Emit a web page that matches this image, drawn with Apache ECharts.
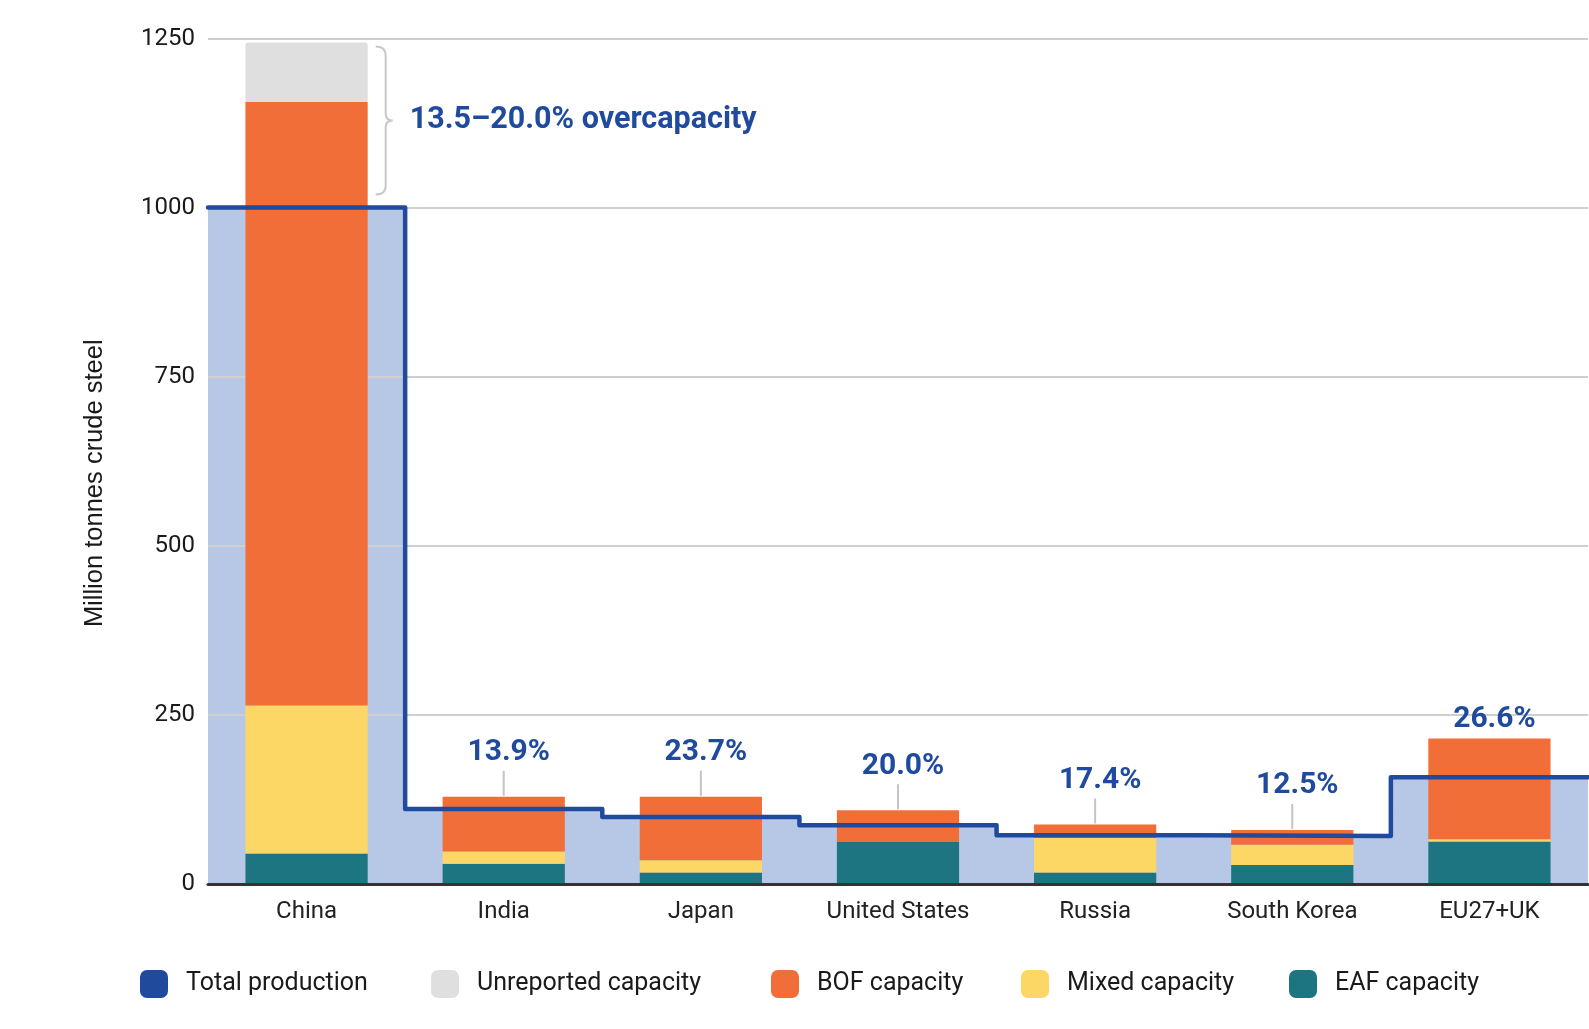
<!DOCTYPE html>
<html><head><meta charset="utf-8">
<script src="https://cdn.jsdelivr.net/npm/echarts@6/dist/echarts.min.js"></script>
<style>html,body{margin:0;padding:0;background:#fff}#c{width:1589px;height:1029px}</style>
</head><body><div id="c"></div>
<script>
const categories = ['China', 'India', 'Japan', 'United States', 'Russia', 'South Korea', 'EU27+UK'];
const eafCapacity = [45, 30, 17, 63, 17, 28, 63];
const mixedCapacity = [219, 18, 18, 0, 51, 30, 3];
const bofCapacity = [892, 81, 94, 46, 20, 22, 149];
const unreportedCapacity = [88, 0, 0, 0, 0, 0, 0];
const totalProduction = [1000, 111, 99, 87, 72, 71, 158];
const overcapacityLabels = ['', '13.9%', '23.7%', '20.0%', '17.4%', '12.5%', '26.6%'];
const chinaOvercapacityLabel = '13.5\u201320.0% overcapacity';
const yTicks = { min: 0, max: 1250, interval: 250 };

const capacityTotal = categories.map((_, i) => eafCapacity[i] + mixedCapacity[i] + bofCapacity[i] + unreportedCapacity[i]);
const stepData = totalProduction.map((v, i) => [i, v]).concat([[categories.length, totalProduction[totalProduction.length - 1]]]);

const BLUE = '#1f4a9e';
const FONT = 'Roboto, sans-serif';
const BARW = 0.62;

const chart = echarts.init(document.getElementById('c'));

const legendBase = {
  top: 970, padding: 0, itemWidth: 28, itemHeight: 28, icon: 'roundRect', selectedMode: false,
  textStyle: { fontSize: 25, color: '#1a1a1a', fontFamily: FONT, padding: [0, 0, 0, 13] }
};

const option = {
  animation: false,
  backgroundColor: '#fff',
  grid: { left: 208, right: 1, top: 38.5, bottom: 145 },
  legend: [
    { data: ['Total production'], left: 140 },
    { data: ['Unreported capacity'], left: 431 },
    { data: ['BOF capacity'], left: 771 },
    { data: ['Mixed capacity'], left: 1021 },
    { data: ['EAF capacity'], left: 1289 }
  ].map(l => Object.assign({}, legendBase, l)),
  xAxis: [
    {
      type: 'category', data: categories, z: 5,
      axisTick: { show: false },
      axisLine: { lineStyle: { color: '#333', width: 3 } },
      axisLabel: { color: '#222', fontSize: 24, fontFamily: FONT, margin: 16 }
    },
    { type: 'value', min: 0, max: categories.length, show: false }
  ],
  yAxis: {
    type: 'value', min: yTicks.min, max: yTicks.max, interval: yTicks.interval, z: 1,
    name: 'Million tonnes crude steel', nameLocation: 'middle', nameGap: 100,
    nameTextStyle: { fontSize: 25.5, color: '#1a1a1a', fontFamily: 'Liberation Sans, Arial, sans-serif', padding: [0, 44, 0, 0] },
    axisLine: { show: false }, axisTick: { show: false },
    axisLabel: { color: '#1a1a1a', fontSize: 24, fontFamily: FONT, margin: 13, formatter: v => String(v) },
    splitLine: { lineStyle: { color: '#cfcfcf', width: 2 } }
  },
  series: [
    {
      name: 'production-area', type: 'line', xAxisIndex: 1, data: stepData, step: 'end', symbol: 'none',
      lineStyle: { width: 0 }, areaStyle: { color: '#b7c8e6', opacity: 1 }, z: 0, silent: true
    },
    { name: 'EAF capacity', type: 'bar', stack: 'cap', data: eafCapacity, barWidth: (BARW * 100) + '%', itemStyle: { color: '#1e7582' }, z: 2 },
    { name: 'Mixed capacity', type: 'bar', stack: 'cap', data: mixedCapacity, barWidth: (BARW * 100) + '%', itemStyle: { color: '#fdd766' }, z: 2 },
    { name: 'BOF capacity', type: 'bar', stack: 'cap', data: bofCapacity, barWidth: (BARW * 100) + '%', itemStyle: { color: '#f26e38' }, z: 2 },
    { name: 'Unreported capacity', type: 'bar', stack: 'cap', data: unreportedCapacity, barWidth: (BARW * 100) + '%', itemStyle: { color: '#dfdfdf', borderRadius: [3, 3, 0, 0] }, z: 2 },
    {
      name: 'Total production', type: 'line', xAxisIndex: 1, data: stepData, step: 'end', symbol: 'none',
      color: BLUE, lineStyle: { width: 4.5, color: BLUE, cap: 'round', join: 'round' }, itemStyle: { color: BLUE }, z: 3
    },
    {
      name: 'pct', type: 'custom', silent: true, z: 4,
      data: categories.map((c, i) => [i, capacityTotal[i]]),
      renderItem: (params, api) => {
        const i = params.dataIndex;
        const text = overcapacityLabels[i];
        if (!text) return { type: 'group', children: [] };
        const p = api.coord([i, api.value(1)]);
        const near = i === categories.length - 1;
        const children = [];
        if (!near) children.push({ type: 'line', shape: { x1: p[0], y1: p[1] - 1, x2: p[0], y2: p[1] - 26 }, style: { stroke: '#c4c4c4', lineWidth: 2 } });
        children.push({ type: 'text', x: p[0] + 5, y: p[1] - (near ? 19 : 44), style: { text: text, fill: BLUE, font: 'bold 30px Roboto', align: 'center', verticalAlign: 'middle' } });
        return { type: 'group', children: children };
      }
    },
    {
      name: 'brace', type: 'custom', silent: true, z: 4,
      data: [[0, totalProduction[0], capacityTotal[0]]],
      renderItem: (params, api) => {
        const xc = api.coord([0, 0])[0];
        const bw = api.size([1, 0])[0] * BARW;
        const yTop = api.coord([0, api.value(2)])[1] + 4;
        const yBot = api.coord([0, api.value(1)])[1] - 13;
        const x0 = xc + bw / 2 + 8, x1 = x0 + 10, x2 = x0 + 17;
        const ym = (yTop + yBot) / 2;
        const d = `M${x0} ${yTop} Q${x1} ${yTop} ${x1} ${yTop + 9} L${x1} ${ym - 7} Q${x1} ${ym} ${x2} ${ym} Q${x1} ${ym} ${x1} ${ym + 7} L${x1} ${yBot - 9} Q${x1} ${yBot} ${x0} ${yBot}`;
        return {
          type: 'group', children: [
            { type: 'path', shape: { pathData: d }, style: { stroke: '#c8c8c8', lineWidth: 2, fill: null } },
            { type: 'text', x: x2 + 17, y: ym, style: { text: chinaOvercapacityLabel, fill: BLUE, font: 'bold 30.5px Roboto', align: 'left', verticalAlign: 'middle' } }
          ]
        };
      }
    }
  ]
};
chart.setOption(option);
</script>
</body></html>
